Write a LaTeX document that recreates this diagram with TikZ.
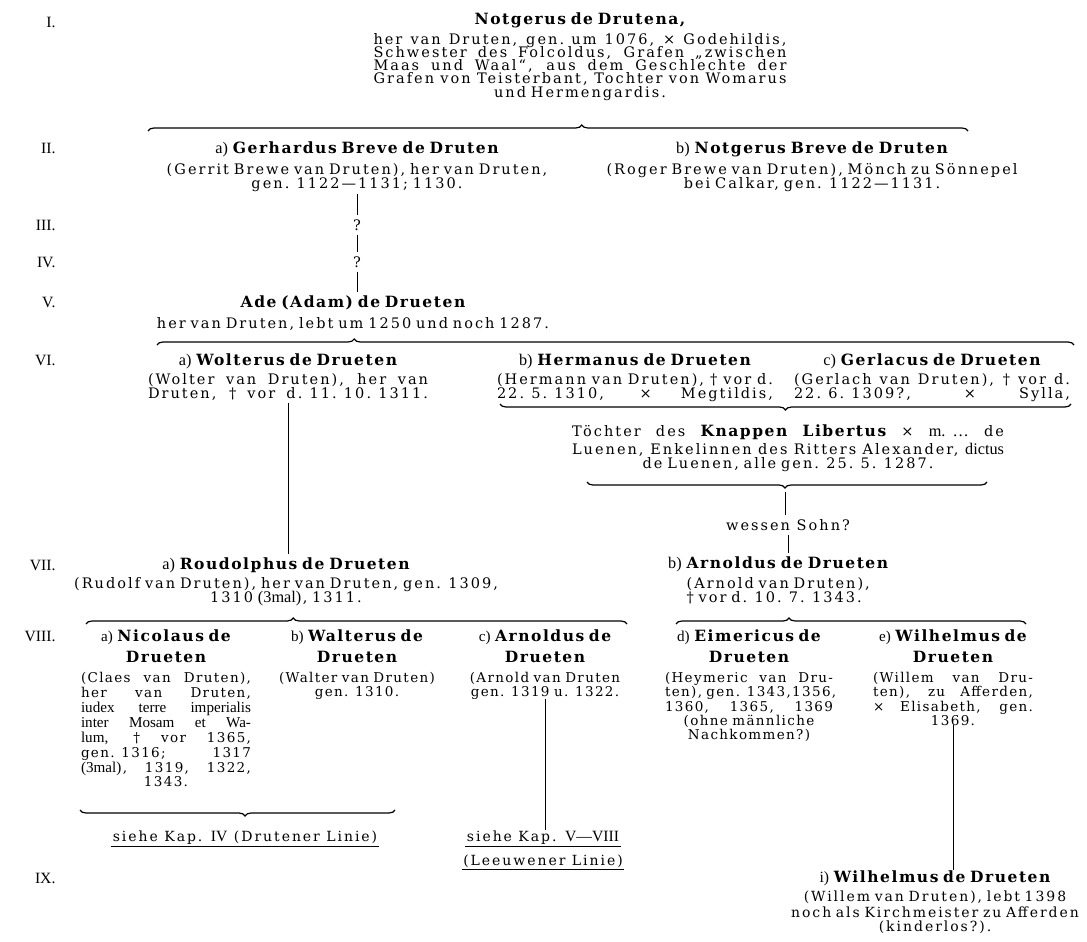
\documentclass[tikz,border=0pt]{standalone}
\usepackage{fontspec}
\setmainfont{DejaVu Serif}[LetterSpace=14]
\newfontfamily\antiqua{Liberation Serif}[Scale=1.12]
\usetikzlibrary{decorations.pathreplacing}

% bold name, Antiqua insert, justified line
\newcommand\nm[1]{{\bfseries\fontsize{15.5}{16}\selectfont\addfontfeature{LetterSpace=10}#1}}
\newcommand\an[1]{{\antiqua #1}}
\newcommand\jline[1]{\leavevmode\hbox to\linewidth{\spaceskip=0.32em plus 1fil\relax #1}}

\begin{document}
\begin{tikzpicture}[x=1pt,y=-1pt]
 \tikzstyle{lvl}=[anchor=east, font={\antiqua\fontsize{14}{14}\selectfont}]
 \tikzstyle{person}=[align=center, inner sep=0pt, anchor=base, font={\fontsize{14.5}{14}\selectfont\spaceskip=0.4em plus 0.15em\relax\lineskiplimit=-20pt}]
 \tikzstyle{child}=[person, font={\fontsize{13.5}{14}\selectfont\addfontfeature{LetterSpace=10}\lineskiplimit=-20pt}]
 \tikzstyle{ask}=[inner sep=1pt, font={\fontsize{14.5}{14}\selectfont}]
 \tikzstyle{ref}=[inner sep=1.5pt, font={\fontsize{14}{14}\selectfont}]
 \tikzstyle{brc}=[decorate, decoration={brace, amplitude=6pt, aspect=#1}, line width=1.2pt]
 \tikzstyle{tick}=[shorten >=3pt, shorten <=3pt, line width=0.6pt]
 \tikzstyle{link}=[line width=0.9pt]

 \useasboundingbox (0,0) rectangle (1087,942);

 % Generations
 \node[lvl] (gI) at (59,22) {I.};
 \node[lvl] (gII) at (59,148) {II.};
 \node[lvl] (gIII) at (59,225) {III.};
 \node[lvl] (gIV) at (59,262) {IV.};
 \node[lvl] (gV) at (59,302) {V.};
 \node[lvl] (gVI) at (59,360) {VI.};
 \node[lvl] (gVII) at (59,565) {VII.};
 \node[lvl] (gVIII) at (59,636) {VIII.};
 \node[lvl] (gIX) at (59,878) {IX.};

 % I
 \node[person, text width=413pt] (notgerus) at (580,25) {\baselineskip=12.8pt\relax
  \nm{Notgerus de Drutena,}\\[7pt]
  \jline{her van Druten, gen. um 1076, × Godehildis,}\\
  \jline{Schwester des Folcoldus, Grafen „zwischen}\\
  \jline{Maas und Waal“, aus dem Geschlechte der}\\
  \jline{Grafen von Teisterbant, Tochter von Womarus}\\
  und Hermengardis.};
 \coordinate (b1l) at (148,131);
 \coordinate (b1r) at (968,131);
 \draw[brc=0.529] (b1l) -- (b1r);

 % II
 \node[person, text width=440pt] (gerhard) at (357,153) {\baselineskip=18pt\relax
  \an{a)} \nm{Gerhardus Breve de Druten}\\[3pt]
  (Gerrit Brewe van Druten), her van Druten,\\
  gen. 1122—1131; 1130.};
 \node[person, text width=440pt] (notgerusb) at (812,153) {\baselineskip=18pt\relax
  \an{b)} \nm{Notgerus Breve de Druten}\\[3pt]
  (Roger Brewe van Druten), Mönch zu Sönnepel\\
  bei Calkar, gen. 1122—1131.};

 % III, IV
 \node[ask] (q3) at (357,225) {?};
 \node[ask] (q4) at (357,262) {?};
 \draw[tick] (gerhard.south) -- (q3.north);
 \draw[tick] (q3.south) -- (q4.north);

 % V
 \node[person, text width=440pt] (ade) at (353,307) {
  \nm{Ade (Adam) de Drueten}\\[7pt]
  her van Druten, lebt um 1250 und noch 1287.};
 \draw[tick] (q4.south) -- (q4.south |- ade.north);
 \coordinate (b2l) at (157,345);
 \coordinate (b2r) at (1074,345);
 \draw[brc=0.215] (b2l) -- (b2r);

 % VI
 \node[person, text width=280pt] (wolterus) at (288,365) {\baselineskip=16pt\relax
  \an{a)} \nm{Wolterus de Drueten}\\[3pt]
  \jline{(Wolter van Druten), her van}\\
  \jline{Druten, † vor d. 11. 10. 1311.}};
 \node[person, text width=276pt] (hermanus) at (635,365) {\baselineskip=16pt\relax
  \an{b)} \nm{Hermanus de Drueten}\\[3pt]
  \jline{(Hermann van Druten), † vor d.}\\
  \jline{22. 5. 1310, × Megtildis,}};
 \node[person, text width=276pt] (gerlacus) at (932,365) {\baselineskip=16pt\relax
  \an{c)} \nm{Gerlacus de Drueten}\\[3pt]
  \jline{(Gerlach van Druten), † vor d.}\\
  \jline{22. 6. 1309?, × Sylla,}};
 \coordinate (b3r) at (1071,404);
 \coordinate (b3l) at (500,404);
 \draw[brc=0.50] (b3r) -- (b3l);

 \node[person, text width=432pt] (toechter) at (788,436) {\baselineskip=18pt\relax
  \jline{Töchter des \nm{Knappen Libertus} × \an{m. \dots} de}\\
  \jline{Luenen, Enkelinnen des Ritters Alexander, \an{dictus}}\\
  de Luenen, alle gen. 25. 5. 1287.};
 \coordinate (b4r) at (987,482);
 \coordinate (b4l) at (587,482);
 \draw[brc=0.505] (b4r) -- (b4l);
 \coordinate (b4tip) at (785,489);

 \node[ask] (sohn) at (788,525) {wessen Sohn?};
 \draw[tick] (b4tip) -- (b4tip |- sohn.north);

 % VII
 \node[person, text width=460pt] (roudolphus) at (286,569) {\baselineskip=19.5pt\relax
  \an{a)} \nm{Roudolphus de Drueten}\\[0pt]
  (Rudolf van Druten), her van Druten, gen. 1309,\\
  1310 \an{(3mal)}\kern1.5pt, 1311.};
 \draw[link, shorten >=3pt, shorten <=3pt] (wolterus.south) -- (wolterus.south |- roudolphus.north);

 \node[person, align=left, anchor=base west, text width=260pt] (arnoldb) at (668,568) {\baselineskip=16pt\relax
  \an{b)} \nm{Arnoldus de Drueten}\\[4pt]
  \hphantom{\an{b)~}}(Arnold van Druten),\\
  \hphantom{\an{b)~}}† vor d. 10. 7. 1343.};
 \draw[tick] (sohn.south) -- (sohn.south |- arnoldb.north);

 \coordinate (b5l) at (86,624);
 \coordinate (b5r) at (627,624);
 \draw[brc=0.383] (b5l) -- (b5r);
 \coordinate (b6l) at (676,624);
 \coordinate (b6r) at (1026,624);
 \draw[brc=0.323] (b6l) -- (b6r);

 % VIII
 \node[child, text width=170pt] (nicolaus) at (166,641) {\baselineskip=15pt\relax
  \an{a)} \nm{Nicolaus de}\\[6pt]
  \nm{Drueten}\\[5pt]
  \jline{(Claes van Druten),}\\
  \jline{her van Druten,}\\
  \jline{\an{iudex terre imperialis}}\\
  \jline{\an{inter Mosam et Wa-}}\\
  \jline{\an{lum,} † vor 1365,}\\
  \jline{gen. 1316; 1317}\\
  \jline{\an{(3mal)}\kern1.5pt, 1319, 1322,}\\
  1343.};
 \node[child, text width=180pt] (walterus) at (357,641) {\baselineskip=15pt\relax
  \an{b)} \nm{Walterus de}\\[6pt]
  \nm{Drueten}\\[5pt]
  (Walter van Druten)\\
  gen. 1310.};
 \node[child, text width=180pt] (arnoldc) at (545,641) {\baselineskip=15pt\relax
  \an{c)} \nm{Arnoldus de}\\[6pt]
  \nm{Drueten}\\[5pt]
  (Arnold van Druten\\
  gen. 1319 u. 1322.};
 \node[child, text width=168pt] (eimericus) at (749,641) {\baselineskip=14.5pt\relax
  \an{d)} \nm{Eimericus de}\\[6.5pt]
  \nm{Drueten}\\[5.5pt]
  \jline{(Heymeric van Dru-}\\
  \jline{ten), gen. 1343,1356,}\\
  \jline{1360, 1365, 1369}\\
  (ohne männliche\\
  Nachkommen?)};
 \node[child, text width=160pt] (wilhelme) at (953,641) {\baselineskip=14.5pt\relax
  \an{e)} \nm{Wilhelmus de}\\[6.5pt]
  \nm{Drueten}\\[5.5pt]
  \jline{(Willem van Dru-}\\
  \jline{ten), zu Afferden,}\\
  \jline{× Elisabeth, gen.}\\
  1369.};

 \coordinate (b7r) at (395,810);
 \coordinate (b7l) at (80,810);
 \draw[brc=0.476] (b7r) -- (b7l);

 % IX
 \node[ref] (siehe1) at (245,838) {siehe Kap. \an{IV} (Drutener Linie)};
 \draw[line width=0.9pt] (siehe1.south west) -- (siehe1.south east);
 \node[ref] (siehe2a) at (543,838) {siehe Kap. \an{V—VIII}};
 \node[ref] (siehe2b) at (543,861) {(Leeuwener Linie)};
 \draw[line width=0.9pt] (siehe2a.south west) -- (siehe2a.south east);
 \draw[line width=0.9pt] (siehe2b.south west) -- (siehe2b.south east);
 \draw[link] (arnoldc.south) -- (arnoldc.south |- siehe2a.north);

 \node[person, text width=290pt, font={\fontsize{14}{14}\selectfont\lineskiplimit=-20pt}] (wilhelmi) at (935,882) {\baselineskip=15.5pt\relax
  \an{i)} \nm{Wilhelmus de Drueten}\\[4pt]
  (Willem van Druten), lebt 1398\\
  noch als Kirchmeister zu Afferden\\
  (kinderlos?).};
 \draw[link] (wilhelme.south) -- (wilhelme.south |- wilhelmi.north);

\end{tikzpicture}
\end{document}
